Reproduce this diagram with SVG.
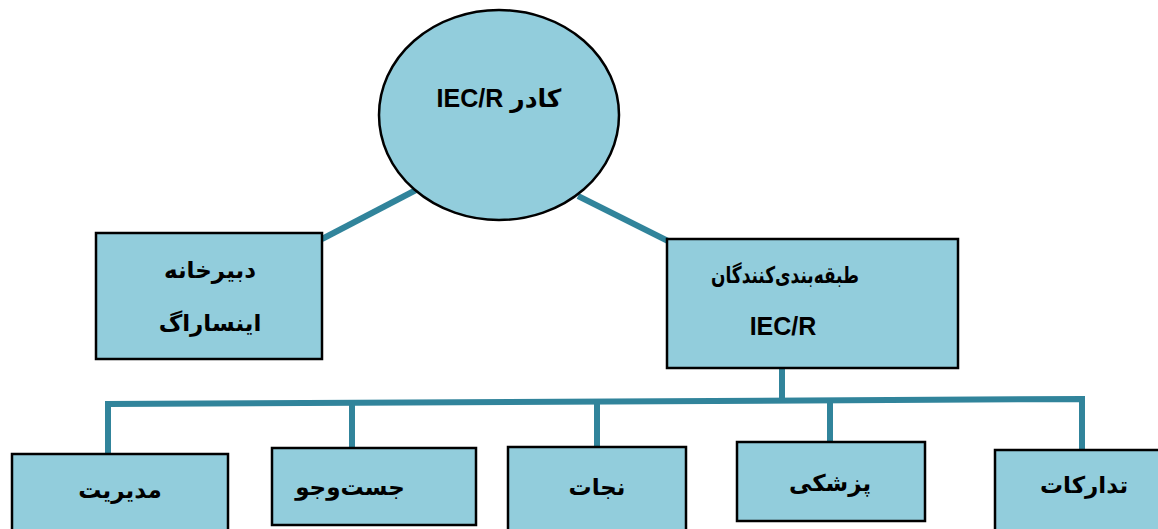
<svg xmlns="http://www.w3.org/2000/svg" width="1158" height="529" viewBox="0 0 1158 529">
<style>
.n{fill:#92CDDC;stroke:#000;stroke-width:2.5}
.c{fill:none;stroke:#31849B;stroke-width:6;stroke-linejoin:miter}
.t{font-family:"Liberation Sans","DejaVu Sans",sans-serif;font-weight:bold;font-size:23px;fill:#000;text-anchor:middle}
.l{font-size:25px}
.k{font-family:"DejaVu Sans Condensed","DejaVu Sans",sans-serif;font-stretch:condensed}
</style>
<rect width="1158" height="529" fill="#fff"/>
<g id="connectors">
<line class="c" x1="416" y1="190" x2="322" y2="239"/>
<line class="c" x1="578" y1="196" x2="668" y2="241"/>
<line class="c" x1="782" y1="368" x2="782" y2="401"/>
<polyline class="c" points="108,455 108,404 1082,399 1082,450"/>
<line class="c" x1="352" y1="403" x2="352" y2="447"/>
<line class="c" x1="597" y1="402" x2="597" y2="446"/>
<line class="c" x1="830" y1="401" x2="830" y2="441"/>
</g>
<g id="node-cadre">
<ellipse class="n" cx="499" cy="115" rx="120" ry="105"/>
<text class="t l" x="499" y="107" direction="rtl">کادر IEC/R</text>
</g>
<g id="node-secretariat">
<rect class="n" x="96" y="233" width="226" height="126"/>
<text class="t" x="210" y="278" direction="rtl">دبیرخانه</text>
<text class="t" x="210" y="331" direction="rtl">اینساراگ</text>
</g>
<g id="node-classifiers">
<rect class="n" x="667" y="239" width="291" height="129"/>
<text class="t k" x="785" y="283" direction="rtl" textLength="148" lengthAdjust="spacingAndGlyphs">طبقه‌بندی‌کنندگان</text>
<text class="t l" x="783" y="335">IEC/R</text>
</g>
<g id="node-management">
<rect class="n" x="12" y="454" width="216" height="80"/>
<text class="t" x="120" y="498" direction="rtl">مدیریت</text>
</g>
<g id="node-search">
<rect class="n" x="272" y="448" width="204" height="77"/>
<text class="t" x="350" y="495" direction="rtl">جست‌وجو</text>
</g>
<g id="node-rescue">
<rect class="n" x="508" y="447" width="178" height="86"/>
<text class="t" x="597" y="495" direction="rtl">نجات</text>
</g>
<g id="node-medical">
<rect class="n" x="737" y="442" width="188" height="79"/>
<text class="t" x="830" y="491" direction="rtl">پزشکی</text>
</g>
<g id="node-logistics">
<rect class="n" x="995" y="450" width="168" height="84"/>
<text class="t" x="1084" y="493" direction="rtl">تدارکات</text>
</g>
</svg>
